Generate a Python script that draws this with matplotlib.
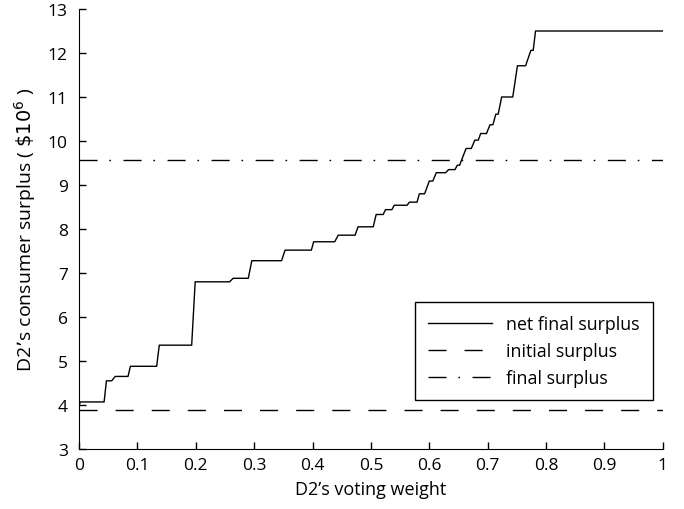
import matplotlib
matplotlib.use("Agg")
import matplotlib.pyplot as plt
import numpy as np

# D2's voting weight vs. net final surplus
weight = [0.0, 0.002, 0.043, 0.047, 0.056, 0.062, 0.084, 0.088, 0.133, 0.1375,
          0.193, 0.199, 0.258, 0.264, 0.290, 0.296, 0.347, 0.353, 0.398, 0.402,
          0.438, 0.444, 0.473, 0.478, 0.504, 0.509, 0.521, 0.525, 0.536, 0.540,
          0.562, 0.566, 0.579, 0.583, 0.592, 0.600, 0.606, 0.612, 0.628, 0.633,
          0.644, 0.648, 0.652, 0.663, 0.672, 0.678, 0.684, 0.688, 0.698, 0.704,
          0.709, 0.714, 0.718, 0.724, 0.743, 0.751, 0.765, 0.774, 0.778, 0.782,
          1.0]
net_final = [3.97, 4.07, 4.07, 4.55, 4.55, 4.65, 4.65, 4.88, 4.88, 5.36,
             5.36, 6.80, 6.80, 6.88, 6.88, 7.28, 7.28, 7.52, 7.52, 7.71,
             7.71, 7.86, 7.86, 8.05, 8.05, 8.33, 8.33, 8.44, 8.44, 8.54,
             8.54, 8.61, 8.61, 8.80, 8.80, 9.09, 9.09, 9.28, 9.28, 9.35,
             9.35, 9.45, 9.45, 9.83, 9.83, 10.02, 10.02, 10.17, 10.17, 10.37,
             10.37, 10.61, 10.61, 11.0, 11.0, 11.71, 11.71, 12.06, 12.06, 12.5,
             12.5]
initial_surplus = 3.88
final_surplus = 9.57

plt.rcParams['font.family'] = ['Open Sans', 'DejaVu Sans']

fig = plt.figure(figsize=(6.84, 5.10), dpi=100)
ax = fig.add_axes([0.1155, 0.1176, 0.8535, 0.8628])

ax.plot(weight, net_final, color='black', lw=1.0, label='net final surplus')
ax.axhline(initial_surplus, color='black', lw=1.0, dashes=(13, 13),
           label='initial surplus')
ax.axhline(final_surplus, color='black', lw=1.0, dashes=(13, 8.5, 1.2, 9),
           label='final surplus')

ax.set_xlim(0, 1)
ax.set_ylim(3, 13)
ax.set_xticks(np.arange(0, 1.01, 0.1))
ax.set_xticklabels(['0', '0.1', '0.2', '0.3', '0.4', '0.5', '0.6', '0.7', '0.8', '0.9', '1'])
ax.set_yticks(range(3, 14))

ax.spines['top'].set_visible(False)
ax.spines['right'].set_visible(False)
ax.tick_params(direction='in', length=5, width=1, labelsize=12.5)
ax.tick_params(axis='x', pad=6)
ax.tick_params(axis='y', pad=8)

ax.set_xlabel("D2’s voting weight", fontsize=13, labelpad=5)
ax.set_ylabel("D2’s consumer surplus ( $\\$10^6$ )", fontsize=14, labelpad=7)

leg = ax.legend(loc='upper left', bbox_to_anchor=(0.575, 0.334), fontsize=12.8,
                fancybox=False, framealpha=1, edgecolor='black',
                handlelength=3.6, borderaxespad=0, labelspacing=0.5,
                borderpad=0.75)
leg.get_frame().set_linewidth(1.0)

fig.savefig('out.png', dpi=100)
